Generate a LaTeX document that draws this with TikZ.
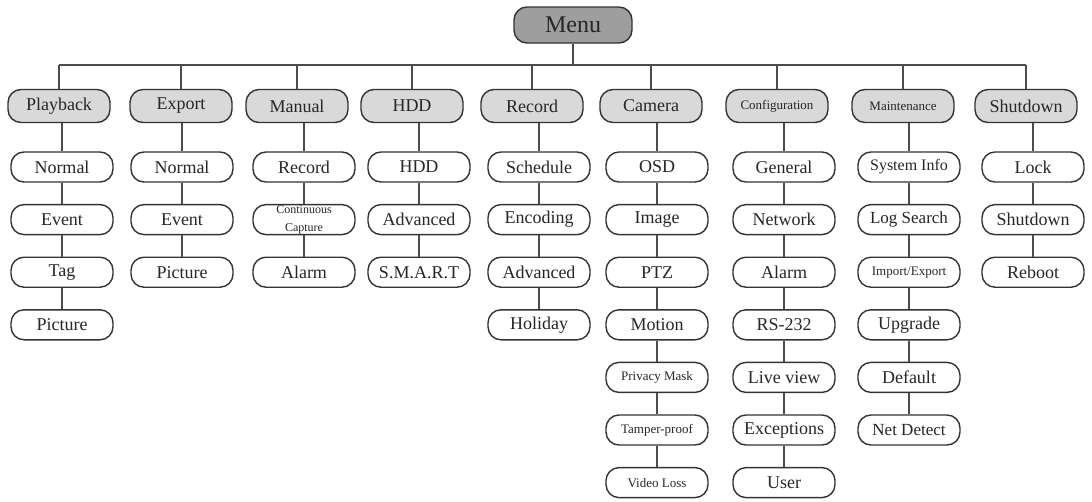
\documentclass[tikz,border=0pt]{standalone}
\usepackage{fontspec}
\setmainfont{Liberation Serif}
\begin{document}
\newcommand{\sml}{\fontsize{13}{13}\selectfont}
\newcommand{\tny}{\fontsize{12}{11}\selectfont}
\begin{tikzpicture}[x=1pt,y=-1pt,
  box/.style={draw=black!80,line width=1.4pt,rounded corners=13pt,minimum width=102pt,
    minimum height=30pt,inner sep=0pt,align=center,font=\fontsize{18}{18}\selectfont,text=black!85},
  topbox/.style={box,fill=black!15,minimum height=33pt},
  menubox/.style={box,fill=black!38,minimum width=118pt,minimum height=36pt,font=\fontsize{24}{24}\selectfont},
  link/.style={draw=black!70,line width=1.2pt}]
\useasboundingbox (0,0) rectangle (1092,501);
\node[menubox] (menu) at (573,25) {Menu};
\coordinate (bar) at (573,65);
\draw[link] (menu) -- (bar);
\foreach \col/\tx/\cx/\lbl/\kids in {
  a/59/62/Playback/{Normal,Event,Tag,Picture},
  b/181/182/Export/{Normal,Event,Picture},
  c/297/304/Manual/{Record,{\tny Continuous\\\tny Capture},Alarm},
  d/412/419/HDD/{HDD,Advanced,S.M.A.R.T},
  e/532/539/Record/{Schedule,Encoding,Advanced,Holiday},
  f/651/657/Camera/{OSD,Image,PTZ,Motion,{\sml Privacy Mask},{\sml Tamper-proof},{\sml Video Loss}},
  g/777/784/{\sml Configuration}/{General,Network,Alarm,RS-232,Live view,Exceptions,User},
  h/903/909/{\sml Maintenance}/{{\fontsize{16}{16}\selectfont System Info},{\fontsize{17}{17}\selectfont Log Search},{\sml Import/Export},Upgrade,Default,{\fontsize{17}{17}\selectfont Net Detect}},
  i/1026/1033/Shutdown/{Lock,Shutdown,Reboot}}
{
  \node[topbox] (\col-0) at (\tx,106) {\lbl};
  \coordinate (\col-top) at (\tx,65);
  \draw[link] (\col-top) -- (\col-0);
  \foreach \k [count=\j] in \kids {
    \pgfmathtruncatemacro\jp{\j-1}
    \node[box] (\col-\j) at (\cx,{167+52.6*(\j-1)}) {\k};
    \draw[link] (\col-\jp.south -| \col-\j) -- (\col-\j);
  }
}
\draw[link] (a-top) -- (i-top);
\end{tikzpicture}
\end{document}
